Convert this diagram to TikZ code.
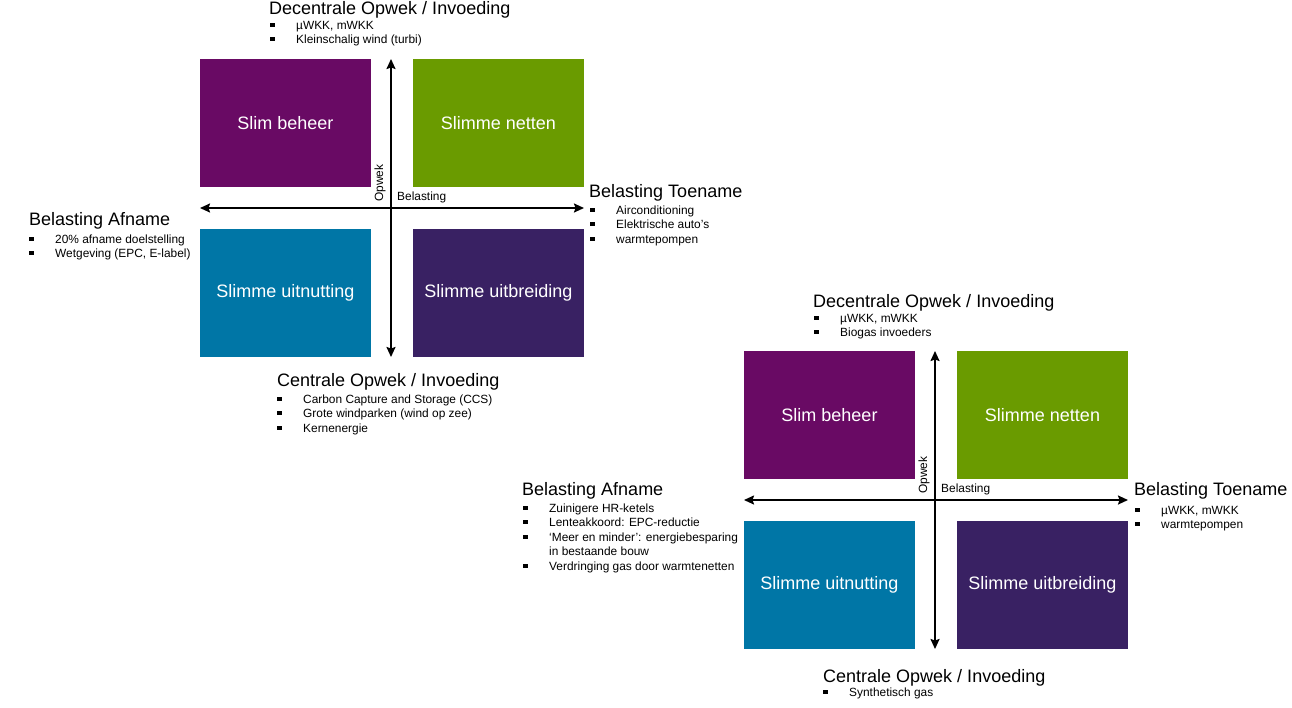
\documentclass[tikz,border=0pt]{standalone}
\usepackage{fontspec}
\setmainfont{Liberation Sans}
\usetikzlibrary{arrows.meta}

\definecolor{slimpurple}{RGB}{105,10,100}
\definecolor{slimgreen}{RGB}{106,155,0}
\definecolor{slimblue}{RGB}{0,118,166}
\definecolor{slimindigo}{RGB}{57,33,99}

% square bullet in front of a list line
\newcommand{\blt}{\makebox[26pt][l]{\rule[2.5pt]{5pt}{4pt}}}

\begin{document}
\begin{tikzpicture}[
                x=1pt, y=-1pt,
                >={Stealth[length=10pt,width=9pt,inset=1.5pt]},
                % Define styles for nodes
                quad/.style={rectangle, minimum width=171pt, minimum height=128pt, inner sep=0pt, text=white, font=\fontsize{18}{21}\selectfont},
                axis/.style={<->, line width=1.8pt},
                head/.style={anchor=base west, inner sep=0pt, font=\fontsize{18}{21}\selectfont},
                item/.style={anchor=base west, inner sep=0pt, font=\fontsize{11.9}{14.5}\selectfont},
                axlabel/.style={inner sep=0pt, font=\fontsize{11.9}{14}\selectfont}
            ]
                \useasboundingbox (0,0) rectangle (1292,707);

                % Quadrants and axes (same layout twice)
                \foreach \d/\dx/\dy in {1/0/0, 2/544/292} {
                  \begin{scope}[shift={(\dx,\dy)}]
                    \node[quad, fill=slimpurple] (beheer\d) at (285.5,123) {Slim beheer};
                    \node[quad, fill=slimgreen] (netten\d) at (498.5,123) {Slimme netten};
                    \node[quad, fill=slimblue] (uitnutting\d) at (285.5,293) {Slimme uitnutting};
                    \node[quad, fill=slimindigo] (uitbreiding\d) at (498.5,293) {Slimme uitbreiding};

                    \coordinate (top\d) at (391,59);
                    \coordinate (bot\d) at (391,357);
                    \coordinate (lft\d) at (200,208);
                    \coordinate (rgt\d) at (584,208);
                    \draw[axis] (bot\d) -- (top\d);
                    \draw[axis] (lft\d) -- (rgt\d);

                    \node[axlabel, rotate=90] (opwek\d) at (380,183) {Opwek};
                    \node[axlabel, anchor=west] (belasting\d) at (397,197) {Belasting};
                  \end{scope}
                }

                % Labels of the first diagram
                \node[head] (dtop1) at (269,14) {Decentrale Opwek / Invoeding};
                \foreach \t/\i in {{µWKK, mWKK}/0, Kleinschalig wind (turbi)/1}
                  \node[item] (dtop1-\i) at (270,29+14.5*\i) {\blt\t};

                \node[head] (dleft1) at (29,225) {Belasting Afname};
                \foreach \t/\i in {20\% afname doelstelling/0, {Wetgeving (EPC, E-label)}/1}
                  \node[item] (dleft1-\i) at (29,243+14.5*\i) {\blt\t};

                \node[head] (dright1) at (589,197) {Belasting Toename};
                \foreach \t/\i in {Airconditioning/0, Elektrische auto’s/1, warmtepompen/2}
                  \node[item] (dright1-\i) at (590,214+14.5*\i) {\blt\t};

                \node[head] (dbot1) at (277,386) {Centrale Opwek / Invoeding};
                \foreach \t/\i in {Carbon Capture and Storage (CCS)/0, Grote windparken (wind op zee)/1, Kernenergie/2}
                  \node[item] (dbot1-\i) at (277,403+14.5*\i) {\blt\t};

                % Labels of the second diagram
                \node[head] (dtop2) at (813,307) {Decentrale Opwek / Invoeding};
                \foreach \t/\i in {{µWKK, mWKK}/0, Biogas invoeders/1}
                  \node[item] (dtop2-\i) at (814,322+14.5*\i) {\blt\t};

                \node[head] (dleft2) at (522,495) {Belasting Afname};
                \foreach \t/\i in {Zuinigere HR-ketels/0, Lenteakkoord: EPC-reductie/1, ‘Meer en minder’: energiebesparing/2, Verdringing gas door warmtenetten/4}
                  \node[item] (dleft2-\i) at (523,512+14.5*\i) {\blt\t};
                \node[item] (dleft2-3) at (549,555.5) {in bestaande bouw};

                \node[head] (dright2) at (1134,495) {Belasting Toename};
                \foreach \t/\i in {{µWKK, mWKK}/0, warmtepompen/1}
                  \node[item] (dright2-\i) at (1135,514+14.5*\i) {\blt\t};

                \node[head] (dbot2) at (823,682) {Centrale Opwek / Invoeding};
                \foreach \t/\i in {Synthetisch gas/0}
                  \node[item] (dbot2-\i) at (823,696+14.5*\i) {\blt\t};
            \end{tikzpicture}
\end{document}
